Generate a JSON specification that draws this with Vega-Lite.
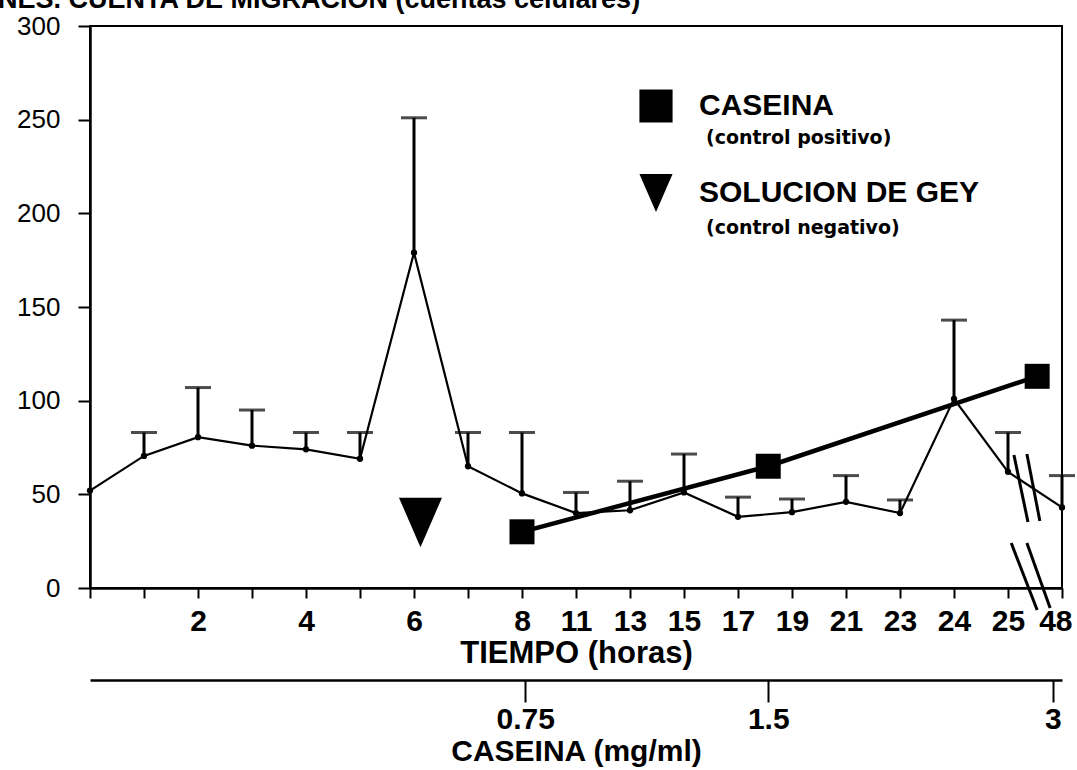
{
  "$schema": "https://vega.github.io/schema/vega-lite/v6.json",
  "width": 972,
  "height": 562,
  "autosize": {"type": "none"},
  "padding": {"left": 90, "top": 26, "right": 15, "bottom": 182},
  "background": "white",
  "config": {"view": {"stroke": "black", "strokeWidth": 2}, "font": "Liberation Sans"},
  "title": {
    "text": "NES. CUENTA DE MIGRACION (cuentas celulares)",
    "anchor": "start",
    "frame": "group",
    "dx": -92,
    "dy": 10,
    "offset": -12,
    "fontSize": 27,
    "font": "Liberation Sans",
    "fontWeight": "bold",
    "color": "black",
    "baseline": "alphabetic"
  },
  "datasets": {
    "migracion": [
      {"pos": 0, "hora": "0", "cuenta": 52, "superior": null},
      {"pos": 1, "hora": "1", "cuenta": 70.5, "superior": 83},
      {"pos": 2, "hora": "2", "cuenta": 80.5, "superior": 107},
      {"pos": 3, "hora": "3", "cuenta": 76, "superior": 95},
      {"pos": 4, "hora": "4", "cuenta": 74, "superior": 83},
      {"pos": 5, "hora": "5", "cuenta": 69, "superior": 83},
      {"pos": 6, "hora": "6", "cuenta": 179, "superior": 251},
      {"pos": 7, "hora": "7", "cuenta": 65, "superior": 83},
      {"pos": 8, "hora": "8", "cuenta": 50.5, "superior": 83},
      {"pos": 9, "hora": "11", "cuenta": 40, "superior": 51},
      {"pos": 10, "hora": "13", "cuenta": 41.5, "superior": 57},
      {"pos": 11, "hora": "15", "cuenta": 51, "superior": 71.5},
      {"pos": 12, "hora": "17", "cuenta": 38, "superior": 48.5},
      {"pos": 13, "hora": "19", "cuenta": 40.5, "superior": 47.5},
      {"pos": 14, "hora": "21", "cuenta": 46, "superior": 60},
      {"pos": 15, "hora": "23", "cuenta": 40, "superior": 47},
      {"pos": 16, "hora": "24", "cuenta": 101, "superior": 143},
      {"pos": 17, "hora": "25", "cuenta": 62, "superior": 83},
      {"pos": 18, "hora": "48", "cuenta": 43, "superior": 60}
    ],
    "caseina": [
      {"pos": 8.0, "mg": 0.75, "cuenta": 30, "serie": "CASEINA", "control": "(control positivo)"},
      {"pos": 12.56, "mg": 1.5, "cuenta": 65, "serie": "CASEINA", "control": "(control positivo)"},
      {"pos": 17.54, "mg": 3, "cuenta": 113, "serie": "CASEINA", "control": "(control positivo)"}
    ],
    "gey": [
      {"pos": 6.12, "cuenta": 35, "serie": "SOLUCION DE GEY", "control": "(control negativo)"}
    ],
    "cortes": [
      {"x1": 17.11, "y1": 71, "x2": 17.37, "y2": 35.2},
      {"x1": 17.35, "y1": 71.5, "x2": 17.59, "y2": 35.8},
      {"x1": 17.06, "y1": 24, "x2": 17.54, "y2": -11.7},
      {"x1": 17.35, "y1": 24, "x2": 17.78, "y2": -10.7}
    ]
  },
  "layer": [
    {
      "layer": [
        {
          "data": {"name": "migracion"},
          "transform": [{"filter": "isValid(datum.superior)"}],
          "mark": {"type": "rule", "strokeWidth": 3, "color": "black"},
          "encoding": {
            "x": {
              "field": "pos",
              "type": "quantitative",
              "scale": {"domain": [0, 18], "nice": false, "zero": false},
              "axis": {
                "orient": "bottom",
                "values": [0, 1, 2, 3, 4, 5, 6, 7, 8, 9, 10, 11, 12, 13, 14, 15, 16, 17, 18],
                "labelExpr": "['','','2','','4','','6','','8','11','13','15','17','19','21','23','24','25','48'][datum.value]",
                "grid": false,
                "tickSize": 10,
                "tickWidth": 2,
                "tickColor": "black",
                "domainColor": "black",
                "domainWidth": 2.5,
                "labelFont": "Liberation Sans",
                "labelFontWeight": "bold",
                "labelFontSize": 30,
                "labelColor": "black",
                "labelPadding": 8,
                "labelFlush": true,
                "labelFlushOffset": 10,
                "labelOverlap": false,
                "labelBound": false,
                "title": "TIEMPO (horas)",
                "titleFont": "Liberation Sans",
                "titleFontWeight": "bold",
                "titleFontSize": 31,
                "titleColor": "black",
                "titlePadding": 2
              }
            },
            "y": {
              "field": "cuenta",
              "type": "quantitative",
              "scale": {"domain": [0, 300], "nice": false},
              "axis": {
                "values": [0, 50, 100, 150, 200, 250, 300],
                "grid": false,
                "title": null,
                "tickSize": 12,
                "tickWidth": 2,
                "tickColor": "black",
                "domainColor": "black",
                "domainWidth": 2.5,
                "labelFont": "Liberation Sans",
                "labelFontSize": 26,
                "labelColor": "black",
                "labelPadding": 18,
                "labelOverlap": false,
                "labelFlush": false
              }
            },
            "y2": {"field": "superior"}
          }
        },
        {
          "data": {"name": "migracion"},
          "transform": [{"filter": "isValid(datum.superior)"}],
          "mark": {"type": "tick", "orient": "horizontal", "size": 26, "thickness": 3, "color": "black"},
          "encoding": {
            "x": {"field": "pos", "type": "quantitative"},
            "y": {"field": "superior", "type": "quantitative"}
          }
        },
        {
          "data": {"name": "migracion"},
          "mark": {"type": "line", "color": "black", "strokeWidth": 2.2},
          "encoding": {
            "x": {"field": "pos", "type": "quantitative"},
            "y": {"field": "cuenta", "type": "quantitative"}
          }
        },
        {
          "data": {"name": "migracion"},
          "mark": {"type": "point", "filled": true, "color": "black", "size": 40, "opacity": 1},
          "encoding": {
            "x": {"field": "pos", "type": "quantitative"},
            "y": {"field": "cuenta", "type": "quantitative"}
          }
        },
        {
          "data": {"name": "gey"},
          "mark": {"type": "point", "filled": true, "color": "black", "size": 1850},
          "encoding": {
            "x": {"field": "pos", "type": "quantitative"},
            "y": {"field": "cuenta", "type": "quantitative"},
            "shape": {
              "field": "serie",
              "type": "nominal",
              "scale": {
                "domain": ["CASEINA", "SOLUCION DE GEY"],
                "range": ["M-1,-1H1V1H-1Z", "M0,1.15L-1,-1.15L1,-1.15Z"]
              },
              "legend": {
                "orient": "none",
                "legendX": 549,
                "legendY": 63,
                "title": null,
                "padding": 0,
                "symbolSize": 1100,
                "symbolOpacity": 1,
                "symbolFillColor": "black",
                "symbolStrokeColor": "black",
                "symbolStrokeWidth": 0,
                "labelFont": "Liberation Sans",
                "labelFontWeight": "bold",
                "labelFontSize": 30,
                "labelColor": "black",
                "labelOffset": 26,
                "rowPadding": 50,
                "labelLimit": 500
              }
            },
            "opacity": {
              "field": "control",
              "type": "ordinal",
              "scale": {"domain": ["(control positivo)", "(control negativo)"], "range": [1, 1]},
              "legend": {
                "orient": "none",
                "legendX": 597,
                "legendY": 102,
                "title": null,
                "padding": 0,
                "symbolSize": 0,
                "symbolOpacity": 0,
                "labelFont": "DejaVu Sans",
                "labelFontWeight": "bold",
                "labelFontSize": 19,
                "labelColor": "black",
                "labelOffset": 0,
                "rowPadding": 70,
                "labelLimit": 500
              }
            }
          }
        },
        {
          "data": {"name": "cortes"},
          "mark": {"type": "rule", "strokeWidth": 3, "color": "black"},
          "encoding": {
            "x": {"field": "x1", "type": "quantitative"},
            "x2": {"field": "x2"},
            "y": {"field": "y1", "type": "quantitative"},
            "y2": {"field": "y2"}
          }
        }
      ]
    },
    {
      "data": {"name": "caseina"},
      "encoding": {
        "x": {
          "field": "pos",
          "type": "quantitative",
          "scale": {"domain": [0, 18], "nice": false, "zero": false},
          "axis": {
            "orient": "bottom",
            "offset": 92,
            "values": [8.06, 12.56, 17.83],
            "labelExpr": "datum.value < 10 ? '0.75' : (datum.value < 15 ? '1.5' : '3')",
            "grid": false,
            "tickSize": 22,
            "tickWidth": 2,
            "tickColor": "black",
            "domainColor": "black",
            "domainWidth": 2.5,
            "labelFont": "Liberation Sans",
            "labelFontWeight": "bold",
            "labelFontSize": 30,
            "labelColor": "black",
            "labelPadding": 2,
            "labelFlush": false,
            "labelOverlap": false,
            "labelBound": false,
            "title": "CASEINA (mg/ml)",
            "titleFont": "Liberation Sans",
            "titleFontWeight": "bold",
            "titleFontSize": 30,
            "titleColor": "black",
            "titlePadding": 2
          }
        },
        "y": {"field": "cuenta", "type": "quantitative"}
      },
      "layer": [
        {"mark": {"type": "line", "color": "black", "strokeWidth": 4.5}},
        {
          "mark": {"type": "point", "filled": true, "color": "black", "size": 625, "opacity": 1},
          "encoding": {
            "shape": {"field": "serie", "type": "nominal"},
            "opacity": {"field": "control", "type": "ordinal"}
          }
        }
      ]
    }
  ],
  "resolve": {"scale": {"x": "independent"}}
}
